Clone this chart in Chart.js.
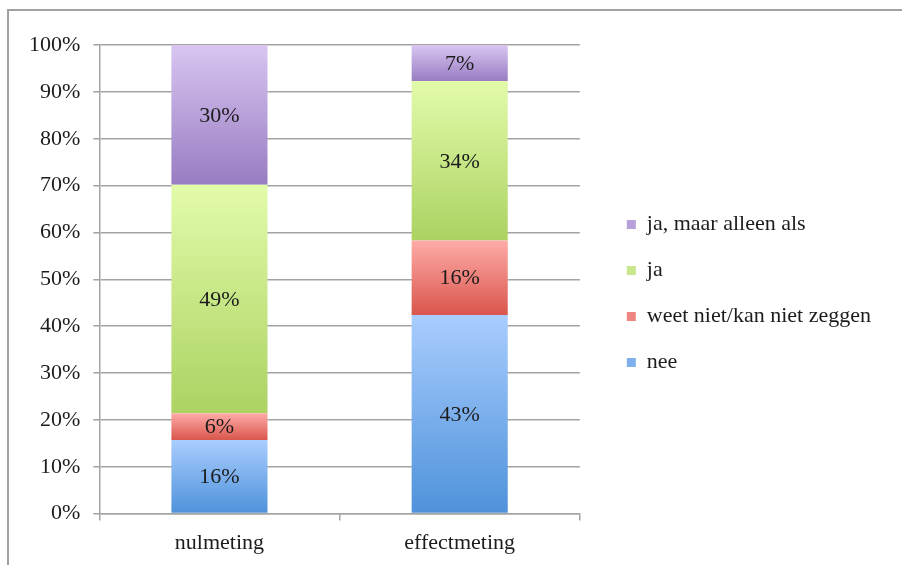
<!DOCTYPE html>
<html>
<head>
<meta charset="utf-8">
<script src="https://cdn.jsdelivr.net/npm/chart.js@4/dist/chart.umd.min.js"></script>
<style>
  html, body { margin: 0; padding: 0; background: #fff; }
  #wrap { position: relative; width: 902px; height: 565px; }
  #frame { position: absolute; left: 7px; top: 9px; right: 0; bottom: 0; border-top: 2px solid #a2a2a2; border-left: 2px solid #a2a2a2; }
  canvas { position: absolute; left: 0; top: 0; }
</style>
</head>
<body>
<div id="wrap">
  <div id="frame"></div>
  <canvas id="chart" width="902" height="565"></canvas>
</div>
<script>
const categories = ['nulmeting', 'effectmeting'];
const seriesNames = ['nee', 'weet niet/kan niet zeggen', 'ja', 'ja, maar alleen als'];

// bar heights (share of 100%)
const neeValues = [15.7, 42.4];
const weetNietValues = [5.7, 15.9];
const jaValues = [48.8, 34.0];
const jaMaarValues = [29.8, 7.7];

// percentages printed in the bars
const neeLabels = [16, 43];
const weetNietLabels = [6, 16];
const jaLabels = [49, 34];
const jaMaarLabels = [30, 7];

const yTicks = [0, 10, 20, 30, 40, 50, 60, 70, 80, 90, 100];

const GRID = '#a3a3a3';
const TEXT = '#1c1c1c';
const FONT = 'Liberation Serif';
const FONT_SIZE = 22;

// top / bottom colours of each series gradient
const gradStops = [
  ['#a9cdfe', '#4e92da'],
  ['#ffaba8', '#d9564c'],
  ['#e2fbaa', '#acd262'],
  ['#d8c6f1', '#997cc2']
];
const legendColors = ['#7fb0ec', '#ee8580', '#c9e68a', '#b8a0da'];

const allValues = [neeValues, weetNietValues, jaValues, jaMaarValues];
const allLabels = [neeLabels, weetNietLabels, jaLabels, jaMaarLabels];

Chart.defaults.font.family = FONT;
Chart.defaults.font.size = FONT_SIZE;
Chart.defaults.color = TEXT;

function segmentGradient(ctx, dsIndex) {
  const chart = ctx.chart;
  const y = chart.scales.y;
  if (!chart.chartArea || !y || ctx.type !== 'data') return legendColors[dsIndex];
  let start = 0;
  for (let k = 0; k < dsIndex; k++) start += allValues[k][ctx.dataIndex];
  const end = start + allValues[dsIndex][ctx.dataIndex];
  const g = chart.ctx.createLinearGradient(0, y.getPixelForValue(end), 0, y.getPixelForValue(start));
  g.addColorStop(0, gradStops[dsIndex][0]);
  g.addColorStop(1, gradStops[dsIndex][1]);
  return g;
}

const barLabels = {
  id: 'barLabels',
  afterDatasetsDraw(chart) {
    const c = chart.ctx;
    c.save();
    c.font = FONT_SIZE + 'px "' + FONT + '"';
    c.fillStyle = TEXT;
    c.textAlign = 'center';
    c.textBaseline = 'middle';
    chart.data.datasets.forEach((ds, i) => {
      chart.getDatasetMeta(i).data.forEach((bar, j) => {
        c.fillText(allLabels[i][j] + '%', bar.x, (bar.y + bar.base) / 2 + 1);
      });
    });
    c.restore();
  }
};

new Chart(document.getElementById('chart'), {
  type: 'bar',
  data: {
    labels: categories,
    datasets: seriesNames.map((name, i) => ({
      label: name,
      data: allValues[i],
      backgroundColor: ctx => segmentGradient(ctx, i),
      borderWidth: 0,
      categoryPercentage: 1,
      barPercentage: 0.4
    }))
  },
  options: {
    responsive: false,
    animation: false,
    layout: { padding: { left: 16, top: 45, right: 21, bottom: 0 } },
    plugins: {
      tooltip: { enabled: false },
      legend: {
        position: 'right',
        reverse: true,
        align: 'start',
        maxWidth: 400,
        // blank title only pushes the legend items down
        title: { display: true, text: ' ', padding: { top: 118, bottom: 0 } },
        labels: {
          boxWidth: 9,
          boxHeight: 9,
          padding: 24,
          color: TEXT,
          generateLabels: chart => chart.data.datasets.map((ds, i) => ({
            text: ds.label, fillStyle: legendColors[i], strokeStyle: legendColors[i],
            lineWidth: 0, datasetIndex: i, hidden: false
          }))
        }
      }
    },
    scales: {
      x: {
        stacked: true,
        grid: { offset: true, drawOnChartArea: false, color: GRID, lineWidth: 1.5, tickLength: 7 },
        border: { display: true, color: GRID, width: 1.5 },
        ticks: { color: TEXT, padding: 9 }
      },
      y: {
        stacked: true,
        min: 0,
        max: 100,
        afterBuildTicks: axis => { axis.ticks = yTicks.map(v => ({ value: v })); },
        grid: { color: GRID, lineWidth: 1.5, tickLength: 6 },
        border: { display: true, color: GRID, width: 1.5 },
        ticks: { color: TEXT, padding: 13, callback: v => v + '%' }
      },
      // empty axis that only keeps a gap between plot and legend
      gap: {
        type: 'linear',
        position: 'right',
        grid: { display: false },
        border: { display: false },
        ticks: { display: false },
        afterFit: axis => { axis.width = 23; }
      }
    }
  },
  plugins: [barLabels]
});
</script>
</body>
</html>
